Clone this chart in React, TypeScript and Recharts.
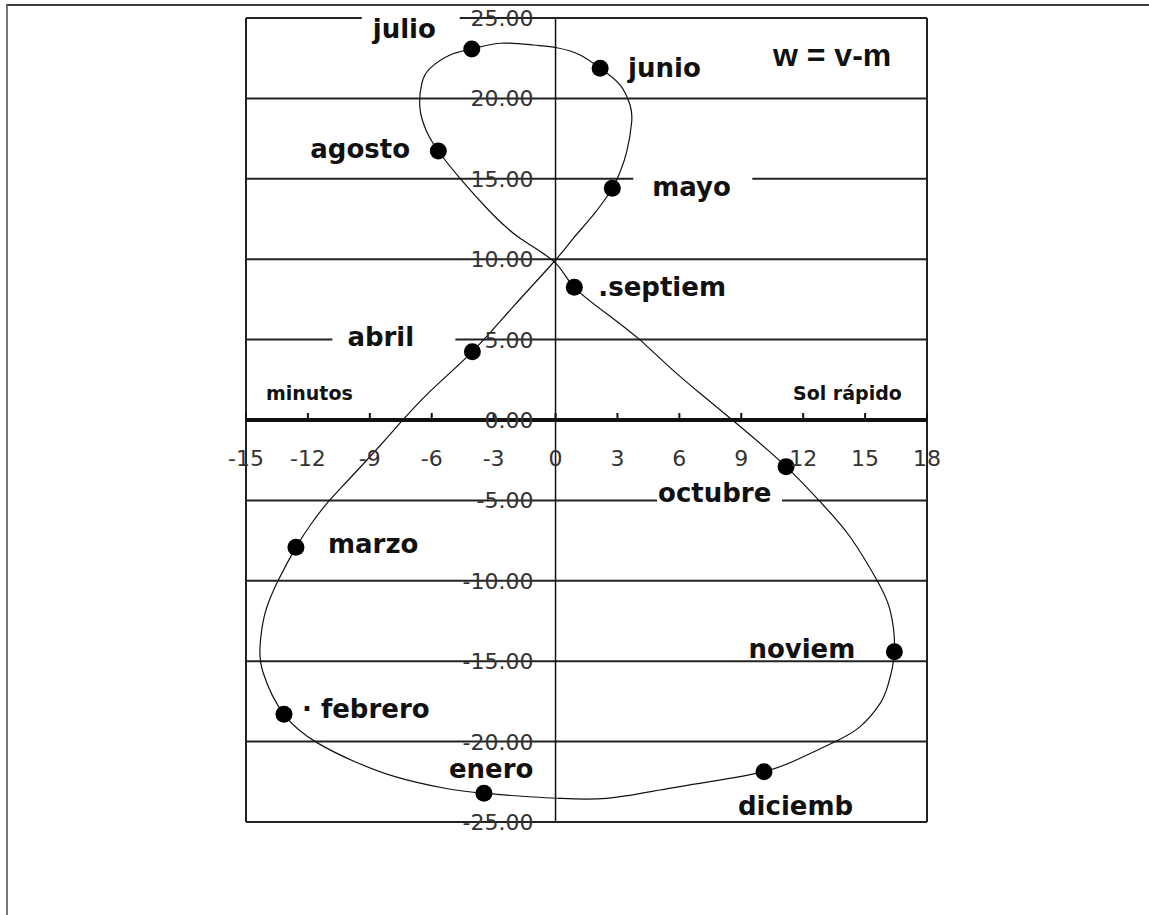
import React from 'react';
import { ScatterChart, Scatter, XAxis, YAxis, CartesianGrid, ReferenceLine } from 'recharts';

// month markers: equation of time (minutes) vs declination (degrees)
const monthLabels = ['enero', '· febrero', 'marzo', 'abril', 'mayo', 'junio', 'julio', 'agosto', '.septiem', 'octubre', 'noviem', 'diciemb'];
const monthMinutes = [-3.47, -13.16, -12.58, -4.03, 2.75, 2.16, -4.06, -5.68, 0.91, 11.17, 16.42, 10.1];
const monthDeclination = [-23.21, -18.3, -7.92, 4.25, 14.41, 21.87, 23.07, 16.73, 8.25, -2.9, -14.41, -21.87];

// the analemma curve (starts on the sept-oct diagonal)
const curveMinutes = [
  4.1, 5.55, 7.0, 8.86, 11.17, 12.82, 14.27, 15.57, 16.21, 16.42, 16.11, 15.73, 14.76, 13.54, 11.85, 10.1,
  7.49, 5.06, 2.48, 0.22, -1.32, -3.47, -5.36, -7.78, -9.72, -11.5, -13.16, -14.16, -14.32, -14.08, -13.43,
  -12.58, -11.82, -11.01, -10.04, -8.51, -7.54, -6.08, -4.03, -2.05, -0.02, 0.86, 1.83, 2.75, 3.13, 3.45,
  3.69, 3.61, 3.13, 2.16, 1.19, 0.06, -1.08, -2.69, -4.06, -5.11, -6.08, -6.48, -6.57, -6.24, -5.68, -4.63,
  -3.17, -1.72, -0.02, 0.91, 2.8, 4.1,
];
const curveDeclination = [
  4.98, 3.26, 1.66, -0.31, -2.9, -5.08, -7.26, -9.95, -11.82, -14.41, -16.48, -17.62, -19.07, -20.01, -21.04,
  -21.87, -22.49, -23.01, -23.53, -23.53, -23.43, -23.21, -22.9, -22.18, -21.25, -20.11, -18.3, -15.75, -14.1,
  -12.02, -9.95, -7.92, -6.42, -5.08, -3.73, -1.6, -0.2, 1.78, 4.25, 7.05, 9.92, 11.3, 12.75, 14.41, 15.44,
  16.69, 18.55, 19.59, 20.83, 21.87, 22.7, 23.15, 23.32, 23.43, 23.07, 22.7, 21.87, 20.94, 19.38, 17.93, 16.73,
  15.03, 12.95, 11.3, 9.79, 8.25, 6.3, 4.98,
];

const xTicks = [-15, -12, -9, -6, -3, 0, 3, 6, 9, 12, 15, 18];
const yTicks = [-25, -20, -15, -10, -5, 0, 5, 10, 15, 20, 25];

// label placement relative to each dot (text start / baseline), optional white box [from, to]
const labelLayout: { dx: number; dy: number; box?: [number, number] }[] = [
  { dx: -35, dy: -15 },
  { dx: 18, dy: 4 },
  { dx: 32, dy: 6 },
  { dx: -125, dy: -6, box: [-140, -17] },
  { dx: 40, dy: 8, box: [21, 140] },
  { dx: 28, dy: 9 },
  { dx: -99, dy: -11, box: [-110, -12] },
  { dx: -128, dy: 7 },
  { dx: 24, dy: 9 },
  { dx: -128, dy: 35, box: [-129, -4] },
  { dx: -146, dy: 6 },
  { dx: -26, dy: 43 },
];

const W = 1149;
const H = 915;
const PLOT = { left: 246, top: 18, right: 927, bottom: 822 };
const X_AXIS_H = 30;
const Y_AXIS_W = 60;
const X_DOMAIN: [number, number] = [-15, 18];
const Y_DOMAIN: [number, number] = [-25, 25];

const originX = PLOT.left + ((0 - X_DOMAIN[0]) / (X_DOMAIN[1] - X_DOMAIN[0])) * (PLOT.right - PLOT.left);
const originY = PLOT.top + ((Y_DOMAIN[1] - 0) / (Y_DOMAIN[1] - Y_DOMAIN[0])) * (PLOT.bottom - PLOT.top);

const monthData = monthLabels.map((label, i) => ({ x: monthMinutes[i], y: monthDeclination[i], label, i }));
const curveData = curveMinutes.map((x, i) => ({ x, y: curveDeclination[i] }));

const tickFont = { fontFamily: 'DejaVu Sans', fontSize: 22, fill: '#333' };
const labelFont = { fontFamily: 'DejaVu Sans', fontSize: 26, fontWeight: 700, fill: '#111' };

const XTick = (props: any) => {
  const { x, payload } = props;
  return (
    <g>
      <line x1={x} x2={x} y1={originY - 7} y2={originY} stroke="#111" strokeWidth={2} />
      <text x={x} y={originY + 46} textAnchor="middle" {...tickFont}>
        {payload.value}
      </text>
    </g>
  );
};

const YTick = (props: any) => {
  const { y, payload } = props;
  return (
    <text x={originX - 22} y={y + 8} textAnchor="end" {...tickFont}>
      {Number(payload.value).toFixed(2)}
    </text>
  );
};

const MonthDot = (props: any) => {
  const { cx, cy, payload } = props;
  const lay = labelLayout[payload.i];
  return (
    <g>
      <circle cx={cx} cy={cy} r={8.5} fill="#000" />
      {lay.box && (
        <rect x={cx + lay.box[0]} y={cy + lay.dy - 25} width={lay.box[1] - lay.box[0]} height={32} fill="#fff" />
      )}
      <text x={cx + lay.dx} y={cy + lay.dy} {...labelFont}>
        {payload.label}
      </text>
    </g>
  );
};

export default function App() {
  return (
    <div style={{ position: 'absolute', left: 0, top: 0, width: W, height: H, background: '#fff' }}>
      <div
        style={{
          position: 'absolute',
          left: 6,
          top: 4,
          width: W - 6,
          height: H - 4,
          borderTop: '2px solid #3c3c3c',
          borderLeft: '2px solid #777',
          boxSizing: 'border-box',
        }}
      />
      <div style={{ position: 'absolute', left: 0, top: 0 }}>
        <ScatterChart
          width={W}
          height={H}
          margin={{
            top: PLOT.top,
            right: W - PLOT.right,
            bottom: H - PLOT.bottom - X_AXIS_H,
            left: PLOT.left - Y_AXIS_W,
          }}
        >
          <CartesianGrid horizontal vertical={false} stroke="#222" strokeWidth={2} />
          <XAxis
            type="number"
            dataKey="x"
            domain={X_DOMAIN}
            ticks={xTicks}
            interval={0}
            height={X_AXIS_H}
            axisLine={false}
            tickLine={false}
            tick={(p: any) => <XTick {...p} />}
          />
          <YAxis
            type="number"
            dataKey="y"
            domain={Y_DOMAIN}
            ticks={yTicks}
            interval={0}
            width={Y_AXIS_W}
            axisLine={false}
            tickLine={false}
            tick={(p: any) => <YTick {...p} />}
          />
          <ReferenceLine x={-15} stroke="#222" strokeWidth={2} />
          <ReferenceLine x={18} stroke="#222" strokeWidth={2} />
          <ReferenceLine y={-25} stroke="#222" strokeWidth={2} />
          <ReferenceLine x={0} stroke="#111" strokeWidth={1.5} />
          <ReferenceLine y={0} stroke="#111" strokeWidth={4} />
          <Scatter
            data={curveData}
            line={{ stroke: '#111', strokeWidth: 1.2 }}
            lineJointType="natural"
            shape={() => <g />}
            isAnimationActive={false}
          />
          <Scatter data={monthData} shape={<MonthDot />} isAnimationActive={false} />
        </ScatterChart>
      </div>
      <svg width={W} height={H} style={{ position: 'absolute', left: 0, top: 0, pointerEvents: 'none' }}>
        <text x={773} y={66} fontFamily="Liberation Sans" fontSize={32} fontWeight={700} fill="#111">
          w = v-m
        </text>
        <text x={266} y={400} fontFamily="DejaVu Sans" fontSize={19} fontWeight={700} fill="#111">
          minutos
        </text>
        <text x={793} y={400} fontFamily="DejaVu Sans" fontSize={19} fontWeight={700} fill="#111">
          Sol rápido
        </text>
      </svg>
    </div>
  );
}
